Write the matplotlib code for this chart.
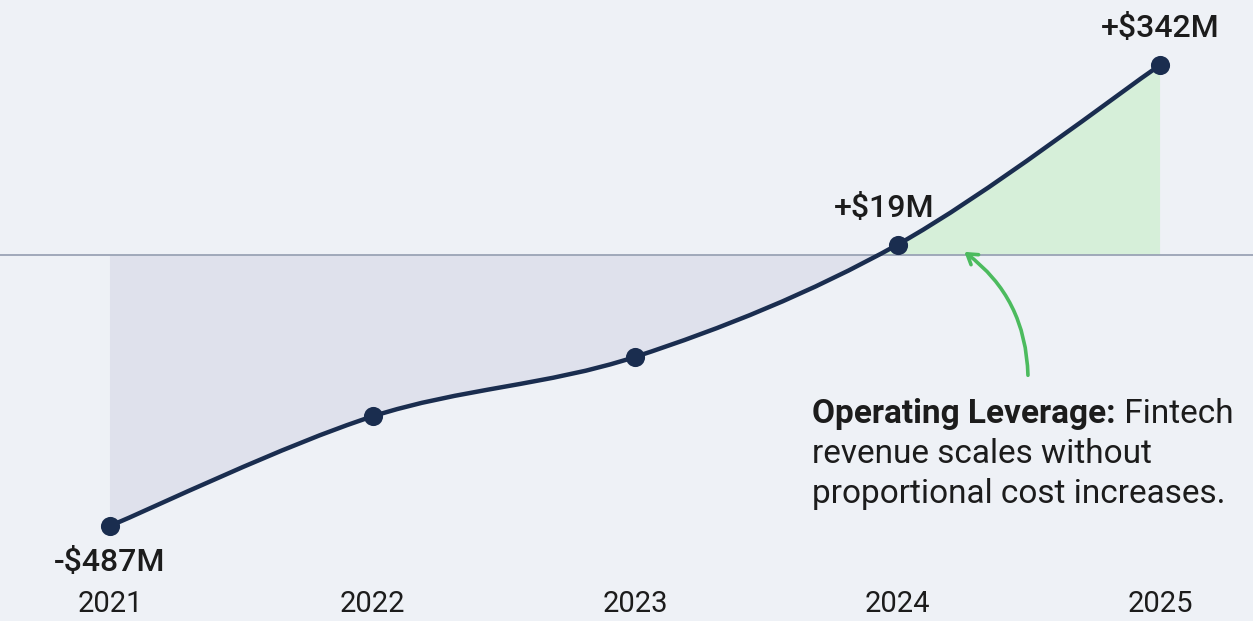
import matplotlib
matplotlib.use("Agg")
import matplotlib.pyplot as plt
from matplotlib.path import Path
from matplotlib.patches import PathPatch, Rectangle
from matplotlib.transforms import offset_copy

# Data (net income, $M)
years = [2021, 2022, 2023, 2024, 2025]
values = [-487, -290, -183, 19, 342]
value_labels = {2021: "-$487M", 2024: "+$19M", 2025: "+$342M"}

BG = "#eef1f6"
LINE = "#1a2d4f"
NEG_FILL = "#dfe1ec"
POS_FILL = "#d6efd9"
ARROW = "#4cbb5e"
ZERO = "#9aa3b5"
TEXT = "#1c1c1c"

plt.rcParams["font.family"] = ["Roboto", "DejaVu Sans"]

fig = plt.figure(figsize=(12.53, 6.21), dpi=100, facecolor=BG)
ax = fig.add_axes([0, 0, 1, 1])
ax.set_facecolor(BG)
ax.set_xlim(2020.581, 2025.354)
ax.set_ylim(-658, 459)
ax.axis("off")


def smooth_path(xs, ys):
    """Catmull-Rom through the points, as cubic Bezier segments."""
    pts = list(zip(xs, ys))
    ext = [pts[0]] + pts + [pts[-1]]
    verts = [pts[0]]
    codes = [Path.MOVETO]
    for i in range(1, len(ext) - 2):
        p0, p1, p2, p3 = ext[i - 1], ext[i], ext[i + 1], ext[i + 2]
        c1 = (p1[0] + (p2[0] - p0[0]) / 6, p1[1] + (p2[1] - p0[1]) / 6)
        c2 = (p2[0] - (p3[0] - p1[0]) / 6, p2[1] - (p3[1] - p1[1]) / 6)
        verts += [c1, c2, p2]
        codes += [Path.CURVE4] * 3
    return verts, codes


verts, codes = smooth_path(years, values)

# area between curve and zero, split into loss (grey) and profit (green)
area_verts = verts + [(years[-1], 0), (years[0], 0), verts[0]]
area_codes = codes + [Path.LINETO, Path.LINETO, Path.CLOSEPOLY]
area = Path(area_verts, area_codes)
for color, y0 in [(NEG_FILL, -2000), (POS_FILL, 0)]:
    patch = PathPatch(area, facecolor=color, edgecolor="none", zorder=1)
    ax.add_patch(patch)
    clip = Rectangle((2019, y0), 10, 2000, transform=ax.transData)
    patch.set_clip_path(clip)

ax.axhline(0, color=ZERO, lw=1.3, zorder=2)

ax.add_patch(PathPatch(Path(verts, codes), facecolor="none", edgecolor=LINE,
                       lw=3.2, capstyle="round", zorder=3))
ax.scatter(years, values, s=190, color=LINE, zorder=4, linewidths=0)

# value labels: (dx in years, dy in pixels, vertical alignment)
label_pos = {2021: (0, -22, "top"), 2024: (-0.05, 22, "bottom"), 2025: (0, 22, "bottom")}
for yr, v in zip(years, values):
    if yr not in value_labels:
        continue
    dx, dy, va = label_pos[yr]
    ax.text(yr + dx, v, value_labels[yr], ha="center", va=va, fontsize=23,
            fontweight="medium", color=TEXT,
            transform=offset_copy(ax.transData, fig=fig, y=dy, units="dots"))

# year labels along the bottom
for yr in years:
    ax.text(yr, -627, str(yr), ha="center", va="center", fontsize=21, color=TEXT)

# annotation arrow and text
ax.annotate("", xy=(2024.246, 9), xytext=(2024.497, -221),
            arrowprops=dict(arrowstyle="->,head_length=0.7,head_width=0.45",
                            color=ARROW, lw=2.6,
                            connectionstyle="arc3,rad=0.25"), zorder=5)

tx, ty = 2023.674, -302
fs = 24
bold = ax.text(tx, ty, "Operating Leverage:", fontsize=fs, fontweight="bold",
               color=TEXT, ha="left", va="baseline")
fig.canvas.draw()
bb = bold.get_window_extent(renderer=fig.canvas.get_renderer())
ax.text(bb.x1, bb.y0, " Fintech", fontsize=fs, color=TEXT, ha="left",
        va="bottom", transform=None)
ax.text(tx, ty - 72, "revenue scales without", fontsize=fs, color=TEXT,
        ha="left", va="baseline")
ax.text(tx, ty - 144, "proportional cost increases.", fontsize=fs, color=TEXT,
        ha="left", va="baseline")

fig.savefig("out.png", dpi=100, facecolor=BG)
